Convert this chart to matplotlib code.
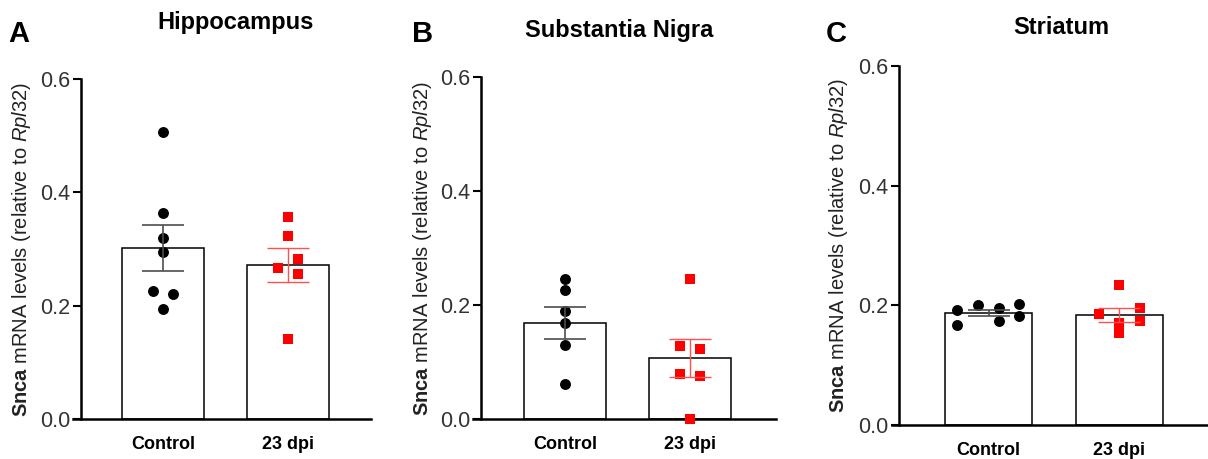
import numpy as np
import matplotlib
matplotlib.use("Agg")
import matplotlib.pyplot as plt

plt.rcParams['font.family'] = ['Liberation Sans', 'DejaVu Sans']
plt.rcParams['mathtext.fontset'] = 'custom'
plt.rcParams['mathtext.rm'] = 'Liberation Sans'
plt.rcParams['mathtext.it'] = 'Liberation Sans:italic'
plt.rcParams['mathtext.bf'] = 'Liberation Sans:bold'

# Daten
groups = ["Control", "23 dpi"]
titles = ["Hippocampus", "Substantia Nigra", "Striatum"]
letters = ["A", "B", "C"]

hip_ctrl = [0.507, 0.364, 0.319, 0.295, 0.226, 0.221, 0.194]
hip_dpi = [0.357, 0.323, 0.283, 0.267, 0.256, 0.141]
sn_ctrl = [0.246, 0.227, 0.189, 0.168, 0.130, 0.061]
sn_dpi = [0.246, 0.128, 0.122, 0.079, 0.075, 0.0]
str_ctrl = [0.193, 0.167, 0.200, 0.195, 0.174, 0.203, 0.183]
str_dpi = [0.186, 0.234, 0.170, 0.153, 0.195, 0.173]

means = [[0.302, 0.271], [0.169, 0.107], [0.188, 0.184]]
sems = [[0.041, 0.030], [0.028, 0.033], [0.005, 0.012]]

# horizontale Streuung der Punkte
jit_hip_ctrl = [0, 0, 0, 0, -0.08, 0.08, 0]
jit_hip_dpi = [0, 0, 0.08, -0.08, 0.08, 0]
jit_sn_ctrl = [0, 0, 0, 0, 0, 0]
jit_sn_dpi = [0, -0.08, 0.08, -0.08, 0.08, 0]
jit_str_ctrl = [-0.24, -0.24, -0.08, 0.08, 0.08, 0.235, 0.235]
jit_str_dpi = [-0.16, 0, 0, 0, 0.16, 0.16]

points = [(hip_ctrl, hip_dpi), (sn_ctrl, sn_dpi), (str_ctrl, str_dpi)]
jitters = [(jit_hip_ctrl, jit_hip_dpi), (jit_sn_ctrl, jit_sn_dpi), (jit_str_ctrl, jit_str_dpi)]

W, H = 1208, 459
fig = plt.figure(figsize=(W / 100, H / 100), dpi=100)

# Achsen in Pixeln: links, rechts, oben, unten, Position der y-Achse
boxes = [(73, 371, 79, 419, 81), (473, 776, 77, 419, 481), (892, 1208, 66, 425, 899)]
xlims = [(-0.72, 1.664), (-0.738, 1.686), (-0.737, 1.676)]
bar_w = [0.656, 0.656, 0.66]
title_pos = [(236, 23), (619, 30), (1061, 28)]
letter_pos = [(8, 34), (412, 34), (826, 34)]
ylabel_x = [22, 422, 838]

red = "#ff0000"

for i in range(3):
    l, r, t, b, sx = boxes[i]
    ax = fig.add_axes([l / W, 1 - b / H, (r - l) / W, (b - t) / H])
    ax.set_xlim(*xlims[i])
    ax.set_ylim(0, 0.6)
    x = np.arange(2)
    ax.bar(x, means[i], width=bar_w[i], color="white", edgecolor="black",
           linewidth=1.1, zorder=2)
    ctrl, dpi = points[i]
    jc, jd = jitters[i]
    ax.scatter(np.array(jc) + 0, ctrl, s=62, color="black", marker="o",
               zorder=3, clip_on=False, linewidths=0)
    ax.scatter(np.array(jd) + 1, dpi, s=52, color=red, marker="s",
               zorder=3, clip_on=False, linewidths=0)
    ax.errorbar(0, means[i][0], yerr=sems[i][0], color="#4d4d4d", capsize=15,
                elinewidth=1.2, capthick=1.2, zorder=4)
    ax.errorbar(1, means[i][1], yerr=sems[i][1], color="#ff5050", capsize=15,
                elinewidth=1.0, capthick=1.0, zorder=4)

    ax.spines['top'].set_visible(False)
    ax.spines['right'].set_visible(False)
    ax.spines['left'].set_position(('axes', (sx - l) / (r - l)))
    ax.spines['left'].set_linewidth(1.8)
    ax.spines['bottom'].set_linewidth(1.8)
    ax.set_yticks([0.0, 0.2, 0.4, 0.6])
    ax.set_yticklabels(["0.0", "0.2", "0.4", "0.6"])
    ax.tick_params(axis='y', length=6, width=1.5, labelsize=15.5, colors="black",
                   labelcolor="#333333", pad=2)
    ax.set_xticks(x)
    ax.set_xticklabels(groups, fontsize=13, fontweight="bold")
    ax.tick_params(axis='x', length=0, pad=12)

    fig.text(title_pos[i][0] / W, 1 - title_pos[i][1] / H, titles[i],
             fontsize=17, fontweight="bold", ha="center", va="center")
    fig.text(letter_pos[i][0] / W, 1 - letter_pos[i][1] / H, letters[i],
             fontsize=21, fontweight="bold", ha="left", va="center")
    fig.text(ylabel_x[i] / W, 1 - ((t + b) / 2) / H,
             r"$\mathbf{Snca}$ mRNA levels (relative to $\mathit{Rpl32}$)",
             rotation=90, fontsize=14.5, ha="center", va="center", color="#222222")

fig.savefig("out.png", dpi=100)
